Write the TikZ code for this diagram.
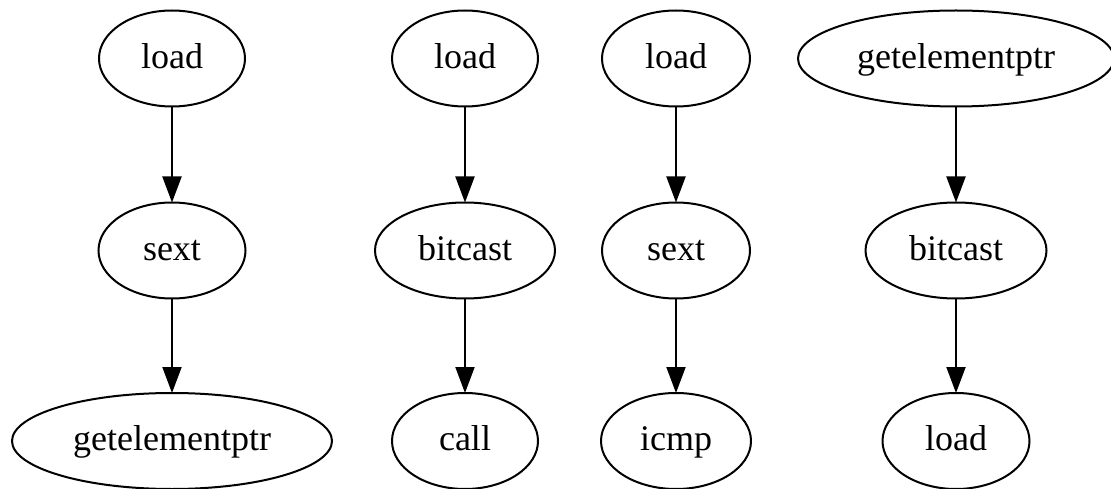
\documentclass[tikz,border=0pt]{standalone}
\usepackage{fontspec}
\setmainfont{Liberation Serif}
\usetikzlibrary{shapes.geometric,arrows.meta}
\tikzset{
  op/.style={ellipse, draw, line width=2pt, inner sep=0pt, outer sep=0pt,
    minimum height=96pt, font=\fontsize{36pt}{40pt}\selectfont,
    text height=25pt, text depth=5.5pt},
  flow/.style={line width=2pt, -{Triangle[length=26pt,width=19pt]}}
}
\begin{document}
\begin{tikzpicture}[x=1pt,y=-1pt]
\useasboundingbox (0,0) rectangle (1111,489);
% column 1
\node[op, minimum width=146pt] (a1) at (172,58.5) {load};
\node[op, minimum width=147pt] (a2) at (172,250.5) {sext};
\node[op, minimum width=320pt] (a3) at (172,441) {getelementptr};
% column 2
\node[op, minimum width=146pt] (b1) at (465,58.5) {load};
\node[op, minimum width=180pt] (b2) at (465,250.5) {bitcast};
\node[op, minimum width=146pt] (b3) at (465,441) {call};
% column 3
\node[op, minimum width=148pt] (c1) at (676,58.5) {load};
\node[op, minimum width=148pt] (c2) at (676,250.5) {sext};
\node[op, minimum width=150pt] (c3) at (676,441) {icmp};
% column 4
\node[op, minimum width=316pt] (d1) at (956,58.5) {getelementptr};
\node[op, minimum width=181pt] (d2) at (956,250.5) {bitcast};
\node[op, minimum width=147pt] (d3) at (956,441) {load};
% edges
\draw[flow] (a1) -- (a2);
\draw[flow] (a2) -- (a3);
\draw[flow] (b1) -- (b2);
\draw[flow] (b2) -- (b3);
\draw[flow] (c1) -- (c2);
\draw[flow] (c2) -- (c3);
\draw[flow] (d1) -- (d2);
\draw[flow] (d2) -- (d3);
\end{tikzpicture}
\end{document}
